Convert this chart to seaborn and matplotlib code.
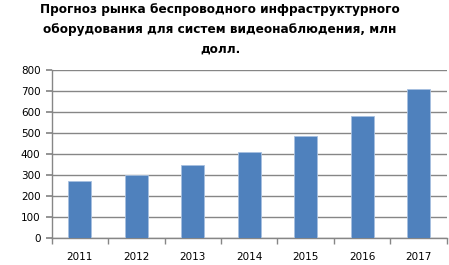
import matplotlib
matplotlib.use("Agg")
import matplotlib.pyplot as plt
import seaborn as sns
import pandas as pd

years = ["2011", "2012", "2013", "2014", "2015", "2016", "2017"]
values = [271, 300, 348, 409, 486, 579, 709]
title = "Прогноз рынка беспроводного инфраструктурного\nоборудования для систем видеонаблюдения, млн\nдолл."

sns.set_theme(style="white")
plt.rcParams['font.family'] = ['DejaVu Sans']
plt.rcParams['text.color'] = 'black'

df = pd.DataFrame({"year": years, "value": values})

fig = plt.figure(figsize=(4.49, 2.65), dpi=100)
ax = fig.add_axes([0.115, 0.102, 0.88, 0.635])
sns.barplot(data=df, x="year", y="value", color="#4F81BD", saturation=1, width=0.41,
            edgecolor="#A7C0E0", linewidth=0.6, ax=ax, zorder=3)
ax.set_ylim(0, 800)
ax.set_xlim(-0.5, 6.5)
ax.set_yticks(range(0, 801, 100))
ax.yaxis.grid(True, color="#868686", linewidth=1)
ax.set_axisbelow(True)
ax.set_xlabel("")
ax.set_ylabel("")
for s in ["top", "right"]:
    ax.spines[s].set_visible(False)
for s in ["left", "bottom"]:
    ax.spines[s].set_color("#868686")
    ax.spines[s].set_linewidth(1)
ax.tick_params(axis="y", which="major", left=True, length=4, color="#868686", labelsize=7.5, pad=4, labelcolor="black")
ax.set_xticks([i - 0.5 for i in range(8)], minor=True)
ax.tick_params(axis="x", which="minor", bottom=True, length=4, color="#868686")
ax.tick_params(axis="x", which="major", bottom=False, length=0, labelsize=7.5, pad=10, labelcolor="black")
fig.text(0.49, 0.99, title, ha="center", va="top", fontsize=8.7, fontweight="bold", linespacing=1.7, color="black")
fig.savefig("out.png", dpi=100)
